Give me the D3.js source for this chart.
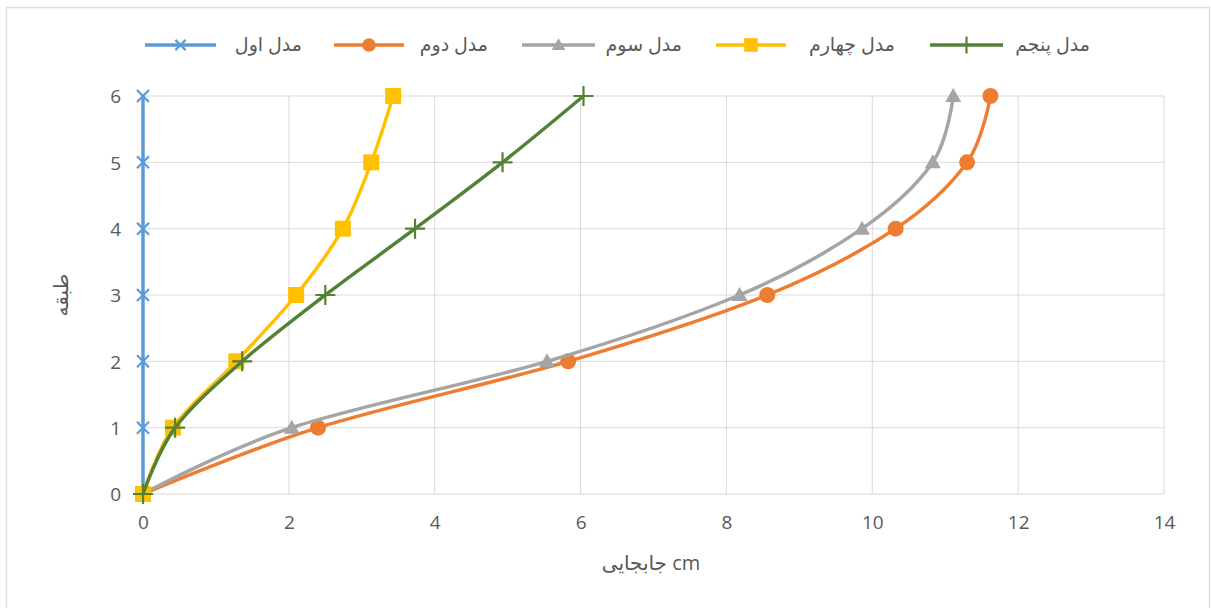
<!DOCTYPE html>
<html>
<head>
<meta charset="utf-8">
<script src="https://cdn.jsdelivr.net/npm/d3@7"></script>
<style>
  html, body { margin: 0; padding: 0; background: #fff; }
  svg text { font-family: "Open Sans", "DejaVu Sans", sans-serif; }
</style>
</head>
<body>
<svg id="chart" width="1211" height="608"></svg>
<script>
// Story levels (y) and lateral displacement in cm (x) for each model
const stories = [0, 1, 2, 3, 4, 5, 6];
const model1 = [0, 0, 0, 0, 0, 0, 0];
const model2 = [0, 2.40, 5.83, 8.56, 10.32, 11.30, 11.62];
const model3 = [0, 2.04, 5.54, 8.18, 9.86, 10.83, 11.11];
const model4 = [0, 0.41, 1.28, 2.10, 2.74, 3.13, 3.43];
const model5 = [0, 0.44, 1.36, 2.50, 3.73, 4.93, 6.04];
const seriesNames = ["مدل اول", "مدل دوم", "مدل سوم", "مدل چهارم", "مدل پنجم"];
const xTicks = [0, 2, 4, 6, 8, 10, 12, 14];
const yTicks = [0, 1, 2, 3, 4, 5, 6];
const xTitle = "جابجایی cm";
const yTitle = "طبقه";

const series = [
  { name: seriesNames[0], values: model1, color: "#5B9BD5", marker: "x" },
  { name: seriesNames[1], values: model2, color: "#ED7D31", marker: "circle" },
  { name: seriesNames[2], values: model3, color: "#A5A5A5", marker: "triangle" },
  { name: seriesNames[3], values: model4, color: "#FFC000", marker: "square" },
  { name: seriesNames[4], values: model5, color: "#548235", marker: "plus" }
];

const svg = d3.select("#chart");
const plot = { left: 143, right: 1164, top: 96, bottom: 494 };

// Chart area frame
svg.append("rect")
  .attr("x", 6.5).attr("y", 7.5).attr("width", 1203).attr("height", 606)
  .attr("fill", "none").attr("stroke", "#dedede").attr("stroke-width", 1.5);

const x = d3.scaleLinear().domain([0, 14]).range([plot.left, plot.right]);
const y = d3.scaleLinear().domain([0, 6]).range([plot.bottom, plot.top]);

// Gridlines
const grid = svg.append("g");
grid.selectAll(".vg").data(xTicks).join("line")
  .attr("x1", d => x(d)).attr("x2", d => x(d))
  .attr("y1", plot.top).attr("y2", plot.bottom)
  .attr("stroke", "#d9d9d9").attr("stroke-width", 1);
grid.selectAll(".hg").data(yTicks).join("line")
  .attr("x1", plot.left).attr("x2", plot.right)
  .attr("y1", d => y(d)).attr("y2", d => y(d))
  .attr("stroke", "#d9d9d9").attr("stroke-width", 1);

// Axes (labels only, Excel style)
const xAxis = svg.append("g")
  .attr("transform", `translate(0,${plot.bottom})`)
  .call(d3.axisBottom(x).tickValues(xTicks).tickFormat(d3.format("d")).tickSize(0).tickPadding(22));
const yAxis = svg.append("g")
  .attr("transform", `translate(${plot.left},0)`)
  .call(d3.axisLeft(y).tickValues(yTicks).tickFormat(d3.format("d")).tickSize(0).tickPadding(22));
[xAxis, yAxis].forEach(a => {
  a.select(".domain").remove();
  a.selectAll("text").attr("fill", "#595959").style("font-size", "19px")
    .style("font-family", "'Open Sans', sans-serif");
});
yAxis.selectAll("text").attr("dy", "0.36em");

// Axis titles
svg.append("text")
  .attr("x", 651).attr("y", 570)
  .attr("text-anchor", "middle")
  .attr("fill", "#595959").style("font-size", "20px")
  .text(xTitle);
svg.append("text")
  .attr("transform", "translate(68,295) rotate(-90)")
  .attr("text-anchor", "middle")
  .attr("fill", "#595959").style("font-size", "20px")
  .text(yTitle);

// Marker drawing
function drawMarker(g, type, color, cx, cy, scale = 1) {
  const s = scale;
  if (type === "circle") {
    g.append("circle").attr("cx", cx).attr("cy", cy).attr("r", 8 * s).attr("fill", color);
  } else if (type === "square") {
    g.append("rect").attr("x", cx - 8 * s).attr("y", cy - 8 * s)
      .attr("width", 16 * s).attr("height", 16 * s).attr("fill", color);
  } else if (type === "triangle") {
    const h = 8 * s;
    g.append("path")
      .attr("d", `M${cx},${cy - h}L${cx + h},${cy + h * 0.75}L${cx - h},${cy + h * 0.75}Z`)
      .attr("fill", color);
  } else if (type === "x") {
    const h = 6 * s;
    g.append("path")
      .attr("d", `M${cx - h},${cy - h}L${cx + h},${cy + h}M${cx - h},${cy + h}L${cx + h},${cy - h}`)
      .attr("stroke", color).attr("stroke-width", 2.2).attr("fill", "none");
  } else if (type === "plus") {
    const h = 10 * s;
    g.append("path")
      .attr("d", `M${cx - h},${cy}L${cx + h},${cy}M${cx},${cy - h}L${cx},${cy + h}`)
      .attr("stroke", color).attr("stroke-width", 2.2).attr("fill", "none");
  }
}

// Smoothed series lines with markers
const line = d3.line()
  .x(d => x(d[0])).y(d => y(d[1]))
  .curve(d3.curveCardinal.tension(0));

series.forEach(s => {
  const pts = s.values.map((v, i) => [v, stories[i]]);
  const g = svg.append("g");
  g.append("path").datum(pts)
    .attr("d", line)
    .attr("fill", "none").attr("stroke", s.color)
    .attr("stroke-width", 3.5).attr("stroke-linecap", "round");
  pts.forEach(p => drawMarker(g, s.marker, s.color, x(p[0]), y(p[1])));
});

// Legend
const legendPos = [
  { lx1: 145, lx2: 216, tx: 302 },
  { lx1: 334, lx2: 404, tx: 488 },
  { lx1: 522, lx2: 595, tx: 682 },
  { lx1: 716, lx2: 786, tx: 895 },
  { lx1: 930, lx2: 1003, tx: 1090 }
];
const legend = svg.append("g");
series.forEach((s, i) => {
  const p = legendPos[i];
  const ly = 45;
  legend.append("line").attr("x1", p.lx1).attr("x2", p.lx2)
    .attr("y1", ly).attr("y2", ly)
    .attr("stroke", s.color).attr("stroke-width", 3.5);
  drawMarker(legend, s.marker, s.color, (p.lx1 + p.lx2) / 2, ly, 0.85);
  legend.append("text").attr("x", p.tx).attr("y", ly)
    .attr("dy", "0.32em")
    .attr("text-anchor", "end")
    .attr("fill", "#595959").style("font-size", "19px")
    .text(s.name);
});
</script>
</body>
</html>
